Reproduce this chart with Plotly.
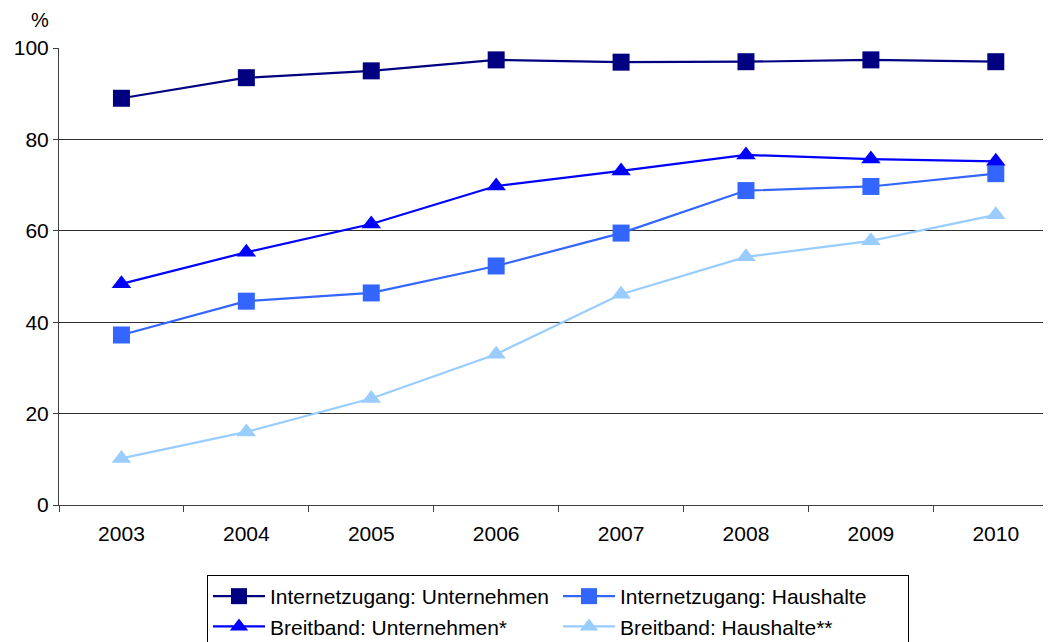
import plotly.graph_objects as go

years = ["2003", "2004", "2005", "2006", "2007", "2008", "2009", "2010"]
internet_unternehmen = [89, 93.5, 95, 97.4, 96.9, 97, 97.4, 97]
internet_haushalte = [37.2, 44.6, 46.4, 52.3, 59.5, 68.8, 69.7, 72.5]
breitband_unternehmen = [48.4, 55.3, 61.5, 69.8, 73.1, 76.6, 75.7, 75.2]
breitband_haushalte = [10.2, 16, 23.3, 33, 46.1, 54.3, 57.8, 63.5]

names = ["Internetzugang: Unternehmen", "Internetzugang: Haushalte",
         "Breitband: Unternehmen*", "Breitband: Haushalte**"]
colors = ["#000080", "#3366FF", "#0000FF", "#99CCFF"]
symbols = ["square", "square", "triangle-up", "triangle-up"]
series = [internet_unternehmen, internet_haushalte, breitband_unternehmen, breitband_haushalte]

FONT = "Liberation Sans, Arial, sans-serif"

# page body has an 8px offset; compensate in margins
OFF = 8
L, T, PW, PH = 59 - OFF, 48 - OFF, 992, 457

fig = go.Figure()
for name, col, sym, vals in zip(names, colors, symbols, series):
    fig.add_trace(go.Scatter(
        x=years, y=vals, name=name, mode="lines+markers",
        line=dict(color=col, width=2.2),
        marker=dict(symbol=sym, size=17, color=col),
        cliponaxis=False,
    ))

fig.update_layout(
    width=1051, height=642,
    margin=dict(l=L, r=1051 - L - PW, t=T, b=642 - T - PH, autoexpand=False),
    paper_bgcolor="white", plot_bgcolor="white",
    font=dict(family=FONT, size=21, color="black"),
    showlegend=True,
    legend=dict(
        orientation="h", x=(207 - 59) / PW, xanchor="left", y=(505 - 575) / PH, yanchor="top",
        bordercolor="black", borderwidth=1, bgcolor="white",
        entrywidth=283, entrywidthmode="pixels", itemwidth=52,
        font=dict(family=FONT, size=21, color="black"),
        traceorder="normal",
    ),
    xaxis=dict(
        type="category", range=[-0.5, 7.442], tickson="boundaries",
        ticks="outside", ticklen=6, tickcolor="#404040",
        showline=True, linecolor="#404040", linewidth=1,
        showgrid=False, tickfont=dict(size=21), ticklabelstandoff=10,
    ),
    yaxis=dict(
        range=[0, 100], dtick=20, ticks="outside", ticklen=5, tickcolor="#404040",
        showline=True, linecolor="#404040", linewidth=1,
        showgrid=True, gridcolor="#303030", gridwidth=1,
        zeroline=False, tickfont=dict(size=21),
    ),
    annotations=[dict(text="%", x=(40 - 59) / PW, y=(505 - 20) / PH,
                      xref="paper", yref="paper", xanchor="center", yanchor="middle",
                      showarrow=False, font=dict(size=20))],
)

fig.write_html("out.html")
